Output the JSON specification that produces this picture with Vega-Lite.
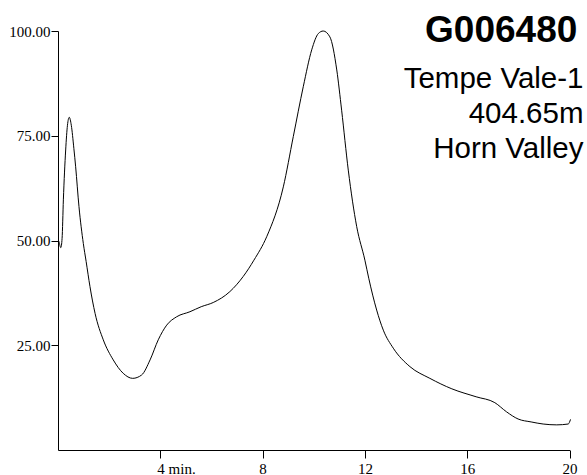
{
  "$schema": "https://vega.github.io/schema/vega-lite/v6.json",
  "autosize": "none",
  "padding": {"left": 58, "top": 31, "right": 17, "bottom": 25},
  "width": 511.5,
  "height": 419,
  "background": "white",
  "title": {
    "text": "G006480\u2006\u200b",
    "subtitle": ["Tempe Vale-1", "404.65m", "Horn Valley"],
    "anchor": "end",
    "frame": "group",
    "orient": "top",
    "offset": 0,
    "dx": 14,
    "dy": 140,
    "font": "Liberation Sans",
    "fontSize": 37,
    "fontWeight": "bold",
    "color": "black",
    "subtitleFont": "Liberation Sans",
    "subtitleFontSize": 29.5,
    "subtitleLineHeight": 35,
    "subtitlePadding": 14.5,
    "subtitleColor": "black"
  },
  "config": {"view": {"stroke": null}},
  "data": {
    "values": [
      {"t": 0.04, "v": 49.8},
      {"t": 0.11, "v": 48.3},
      {"t": 0.16, "v": 50.5},
      {"t": 0.21, "v": 59.7},
      {"t": 0.30, "v": 71.6},
      {"t": 0.37, "v": 77.5},
      {"t": 0.44, "v": 79.4},
      {"t": 0.52, "v": 77.5},
      {"t": 0.62, "v": 72.0},
      {"t": 0.69, "v": 67.6},
      {"t": 0.82, "v": 58.1},
      {"t": 0.99, "v": 49.3},
      {"t": 1.1, "v": 45.0},
      {"t": 1.25, "v": 39.0},
      {"t": 1.45, "v": 32.6},
      {"t": 1.77, "v": 26.3},
      {"t": 2.16, "v": 21.5},
      {"t": 2.55, "v": 18.3},
      {"t": 2.92, "v": 17.1},
      {"t": 3.27, "v": 17.9},
      {"t": 3.6, "v": 21.5},
      {"t": 3.92, "v": 26.3},
      {"t": 4.25, "v": 29.8},
      {"t": 4.64, "v": 31.8},
      {"t": 5.16, "v": 33.0},
      {"t": 5.6, "v": 34.2},
      {"t": 6.07, "v": 35.2},
      {"t": 6.72, "v": 37.8},
      {"t": 7.24, "v": 41.4},
      {"t": 7.66, "v": 45.3},
      {"t": 8.16, "v": 50.9},
      {"t": 8.81, "v": 62.8},
      {"t": 9.2, "v": 74.8},
      {"t": 9.59, "v": 86.7},
      {"t": 9.92, "v": 95.5},
      {"t": 10.18, "v": 99.4},
      {"t": 10.37, "v": 100.0},
      {"t": 10.63, "v": 98.6},
      {"t": 10.9, "v": 90.7},
      {"t": 11.09, "v": 81.1},
      {"t": 11.35, "v": 66.8},
      {"t": 11.68, "v": 53.3},
      {"t": 12.0, "v": 45.3},
      {"t": 12.15, "v": 41.0},
      {"t": 12.46, "v": 33.4},
      {"t": 12.72, "v": 28.6},
      {"t": 13.11, "v": 24.3},
      {"t": 13.76, "v": 19.9},
      {"t": 14.54, "v": 17.1},
      {"t": 15.4, "v": 14.6},
      {"t": 16.35, "v": 12.7},
      {"t": 17.08, "v": 11.3},
      {"t": 17.54, "v": 9.1},
      {"t": 17.99, "v": 7.4},
      {"t": 18.5, "v": 6.7},
      {"t": 18.97, "v": 6.2},
      {"t": 19.5, "v": 6.0},
      {"t": 19.95, "v": 6.2},
      {"t": 20.04, "v": 7.3}
    ]
  },
  "mark": {"type": "line", "color": "black", "strokeWidth": 1, "interpolate": "monotone"},
  "encoding": {
    "x": {
      "field": "t",
      "type": "quantitative",
      "scale": {"domain": [0, 20], "nice": false, "zero": false},
      "axis": {
        "title": null,
        "values": [4, 8, 12, 16, 20],
        "labelExpr": "datum.value == 4 ? '4 min.' : datum.label",
        "labelAlign": {"condition": {"test": "datum.value == 4", "value": "left"}, "value": "center"},
        "labelOffset": {"condition": {"test": "datum.value == 4", "value": -3.5}, "value": 0},
        "grid": false,
        "domainColor": "black",
        "tickColor": "black",
        "tickSize": 8,
        "labelPadding": 3,
        "labelFont": "Liberation Serif",
        "labelFontSize": 15,
        "labelColor": "black",
        "labelFlush": false,
        "labelOverlap": false
      }
    },
    "y": {
      "field": "v",
      "type": "quantitative",
      "scale": {"domain": [0, 100], "nice": false},
      "axis": {
        "title": null,
        "values": [25, 50, 75, 100],
        "format": ".2f",
        "grid": false,
        "domainColor": "black",
        "tickColor": "black",
        "tickSize": 7,
        "labelPadding": 1,
        "labelFont": "Liberation Serif",
        "labelFontSize": 15,
        "labelColor": "black",
        "labelFlush": false,
        "labelOverlap": false
      }
    }
  }
}
